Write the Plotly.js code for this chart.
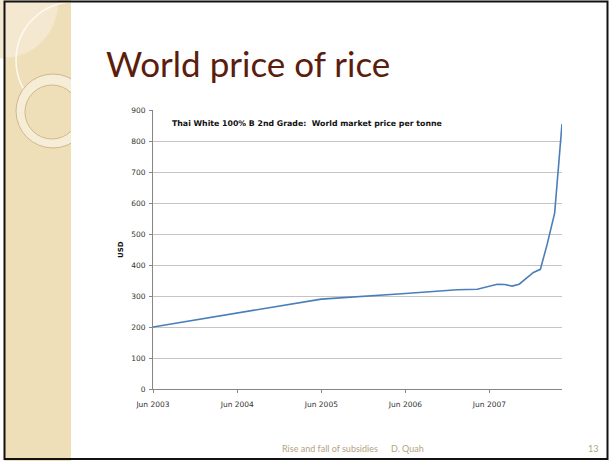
<!DOCTYPE html>
<html>
<head>
<meta charset="utf-8">
<script src="https://cdn.plot.ly/plotly-3.0.1.min.js"></script>
<style>html,body{margin:0;padding:0;background:#fff;}#chart{width:610px;height:461px;}</style>
</head>
<body>
<div id="chart"></div>
<script>
// ---- data ----
const dates = ['2003-06-01','2005-06-01','2006-06-01','2007-01-12','2007-04-09','2007-06-01','2007-07-05','2007-08-06','2007-09-07','2007-10-08','2007-11-08','2007-12-09','2008-01-08','2008-02-06','2008-03-10','2008-04-11'];
const priceUSD = [200, 290, 308, 320, 322, 331, 338, 337, 332, 338, 358, 376, 386, 465, 567, 855];
const tickDates = ['2003-06-01','2004-06-01','2005-06-01','2006-06-01','2007-06-01'];
const tickLabels = ['Jun 2003','Jun 2004','Jun 2005','Jun 2006','Jun 2007'];
const slideTitle = 'World price of rice';
const chartTitle = 'Thai White 100% B 2nd Grade:  World market price per tonne';
const yTitle = 'USD';
const footerText = 'Rise and fall of subsidies';
const footerAuthor = 'D. Quah';
const slideNumber = '13';

// ---- layout helpers (pixel -> paper) ----
const L = 153, R = 562, T = 110, B = 389;
const W = R - L, H = B - T;
const px = x => (x - L) / W;
const py = y => (B - y) / H;

const shapes = [
  {type:'rect', xref:'paper', yref:'paper', x0:px(4), x1:px(71), y0:py(461), y1:py(0), fillcolor:'#efdfb8', line:{width:0}, layer:'below'},
  {type:'circle', xref:'paper', yref:'paper', x0:px(3-55), x1:px(3+55), y0:py(3+55), y1:py(3-55), fillcolor:'#f4e9d0', line:{color:'#f1e4c6', width:1}, layer:'below'},
  {type:'circle', xref:'paper', yref:'paper', x0:px(74-58), x1:px(74+58), y0:py(60+58), y1:py(60-58), fillcolor:'rgba(0,0,0,0)', line:{color:'#fdfaf2', width:1.5}, layer:'below'},
  {type:'circle', xref:'paper', yref:'paper', x0:px(53-37), x1:px(53+37), y0:py(111+37), y1:py(111-37), fillcolor:'#f6edd6', line:{color:'#cdb98f', width:1}, layer:'below'},
  {type:'circle', xref:'paper', yref:'paper', x0:px(52-27), x1:px(52+27), y0:py(112+27), y1:py(112-27), fillcolor:'#efdfb8', line:{color:'#cdb98f', width:1}, layer:'below'},
  {type:'rect', xref:'paper', yref:'paper', x0:px(71), x1:px(612), y0:py(465), y1:py(-5), fillcolor:'#ffffff', line:{width:0}, layer:'below'},
  {type:'rect', xref:'paper', yref:'paper', x0:px(4.5), x1:px(607.5), y0:py(459), y1:py(1.5), fillcolor:'rgba(0,0,0,0)', line:{color:'#111111', width:2}, layer:'below'}
];

const annotations = [
  {text: slideTitle, xref:'paper', yref:'paper', x:px(104), y:py(63), xanchor:'left', yanchor:'middle', showarrow:false,
   font:{family:'Lato, sans-serif', size:35, color:'#5a1d0e'}},
  {text: '<b>'+chartTitle+'</b>', xref:'paper', yref:'paper', x:px(170), y:py(123), xanchor:'left', yanchor:'middle', showarrow:false,
   font:{family:'DejaVu Sans, sans-serif', size:7.8, color:'#111111'}},
  {text: '<b>'+yTitle+'</b>', xref:'paper', yref:'paper', x:px(121), y:py(250), xanchor:'center', yanchor:'middle', textangle:-90, showarrow:false,
   font:{family:'DejaVu Sans, sans-serif', size:7, color:'#111111'}},
  {text: footerText, xref:'paper', yref:'paper', x:px(280), y:py(448), xanchor:'left', yanchor:'middle', showarrow:false,
   font:{family:'Lato, sans-serif', size:9, color:'#b3a37f'}},
  {text: footerAuthor, xref:'paper', yref:'paper', x:px(389), y:py(448), xanchor:'left', yanchor:'middle', showarrow:false,
   font:{family:'Lato, sans-serif', size:9, color:'#b3a37f'}},
  {text: slideNumber, xref:'paper', yref:'paper', x:px(600), y:py(448), xanchor:'right', yanchor:'middle', showarrow:false,
   font:{family:'Lato, sans-serif', size:9, color:'#b3a37f'}}
];

const trace = {
  x: dates, y: priceUSD, type:'scatter', mode:'lines',
  line:{color:'#4a7ebb', width:1.6}, hoverinfo:'skip'
};

const layout = {
  width:610, height:461,
  margin:{l:L, r:610-R, t:T, b:461-B, pad:0},
  paper_bgcolor:'#ffffff', plot_bgcolor:'rgba(0,0,0,0)',
  showlegend:false,
  xaxis:{
    type:'date', range:[dates[0], dates[dates.length-1]],
    tickmode:'array', tickvals:tickDates, ticktext:tickLabels,
    showgrid:false, zeroline:false,
    showline:true, linecolor:'#868686', linewidth:1,
    ticks:'outside', ticklen:3, tickcolor:'#868686', ticklabelstandoff:5,
    tickfont:{family:'DejaVu Sans, sans-serif', size:7.5, color:'#333333'}
  },
  yaxis:{
    range:[0,900], dtick:100, tick0:0,
    showgrid:true, gridcolor:'#c4c4c4', gridwidth:1, zeroline:false,
    showline:true, linecolor:'#868686', linewidth:1,
    ticks:'outside', ticklen:3, tickcolor:'#868686', ticklabelstandoff:2,
    tickfont:{family:'DejaVu Sans, sans-serif', size:7.5, color:'#333333'}
  },
  shapes: shapes,
  annotations: annotations
};

Plotly.newPlot('chart', [trace], layout, {staticPlot:true, displayModeBar:false});
</script>
</body>
</html>
